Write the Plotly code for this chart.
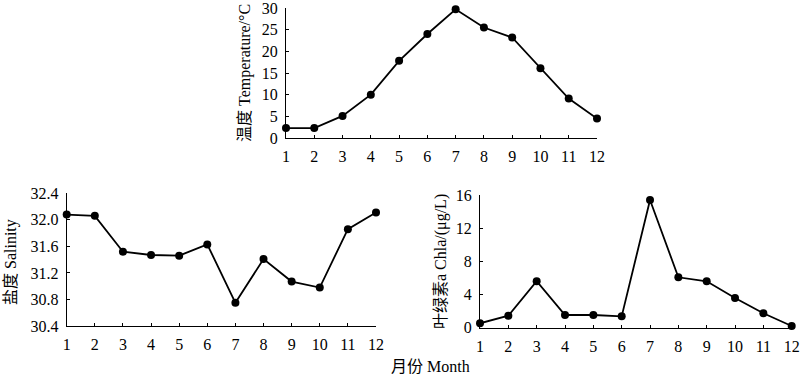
import plotly.graph_objects as go

months = list(range(1, 13))
temperature = [2.3, 2.3, 5.1, 10.0, 17.8, 24.0, 29.7, 25.5, 23.2, 16.1, 9.1, 4.5]
salinity = [32.08, 32.06, 31.52, 31.47, 31.46, 31.63, 30.75, 31.41, 31.07, 30.98, 31.86, 32.11]
chla = [0.53, 1.45, 5.6, 1.53, 1.53, 1.37, 15.4, 6.08, 5.6, 3.58, 1.74, 0.2]

temp_ticks = [0, 5, 10, 15, 20, 25, 30]
sal_ticks = [30.4, 30.8, 31.2, 31.6, 32.0, 32.4]
chla_ticks = [0, 4, 8, 12, 16]

FONT = "Liberation Serif, Noto Sans CJK SC, serif"
W, H = 800, 374

fig = go.Figure()
line = dict(color="black", width=1.8)
marker = dict(color="black", size=8)

fig.add_trace(go.Scatter(x=months, y=temperature, mode="lines+markers", line=line, marker=marker,
                         xaxis="x", yaxis="y", cliponaxis=False, showlegend=False))
fig.add_trace(go.Scatter(x=months, y=salinity, mode="lines+markers", line=line, marker=marker,
                         xaxis="x2", yaxis="y2", cliponaxis=False, showlegend=False))
fig.add_trace(go.Scatter(x=months, y=chla, mode="lines+markers", line=line, marker=marker,
                         xaxis="x3", yaxis="y3", cliponaxis=False, showlegend=False))

tf = dict(family=FONT, size=16, color="black")

def xax(domain, anchor):
    return dict(domain=domain, anchor=anchor, range=[1, 12], tickvals=months, ticks="inside",
                ticklen=3, tickcolor="black", showline=True, linecolor="black", linewidth=1,
                showgrid=False, zeroline=False, automargin=False, tickfont=tf,
                ticklabeloverflow="allow", ticklabelstandoff=4)

def yax(domain, anchor, rng, tv, fmt=None):
    d = dict(domain=domain, anchor=anchor, range=rng, tickvals=tv, ticks="inside",
             ticklen=3, tickcolor="black", showline=True, linecolor="black", linewidth=1,
             showgrid=False, zeroline=False, automargin=False, tickfont=tf,
             ticklabeloverflow="allow", ticklabelstandoff=4)
    if fmt:
        d["tickformat"] = fmt
    return d

fig.update_layout(
    width=W, height=H, margin=dict(l=0, r=0, t=0, b=0, autoexpand=False),
    paper_bgcolor="white", plot_bgcolor="white",
    xaxis=xax([286/W, 597/W], "y"),
    yaxis=yax([1-138/H, 1-8/H], "x", [0, 30], temp_ticks),
    xaxis2=xax([66.7/W, 376/W], "y2"),
    yaxis2=yax([1-326/H, 1-193.3/H], "x2", [30.4, 32.4], sal_ticks, ".1f"),
    xaxis3=xax([480/W, 791.7/W], "y3"),
    yaxis3=yax([1-327.7/H, 1-195/H], "x3", [0, 16], chla_ticks),
)

ann_font = dict(family=FONT, size=16, color="black")
fig.add_annotation(text="温度 Temperature/°C", x=245/W, y=1-73/H, xref="paper", yref="paper",
                   textangle=-90, showarrow=False, font=ann_font, xanchor="center", yanchor="middle")
fig.add_annotation(text="盐度 Salinity", x=11/W, y=1-262/H, xref="paper", yref="paper",
                   textangle=-90, showarrow=False, font=ann_font, xanchor="center", yanchor="middle")
fig.add_annotation(text="叶绿素a Chla/(μg/L)", x=441/W, y=1-262/H, xref="paper", yref="paper",
                   textangle=-90, showarrow=False, font=ann_font, xanchor="center", yanchor="middle")
fig.add_annotation(text="月份 Month", x=430/W, y=1-366/H, xref="paper", yref="paper",
                   showarrow=False, font=ann_font, xanchor="center", yanchor="middle")

fig.write_html("out.html", config={"displayModeBar": False},
               post_script="document.body.style.margin='0';document.body.style.overflow='hidden';")
